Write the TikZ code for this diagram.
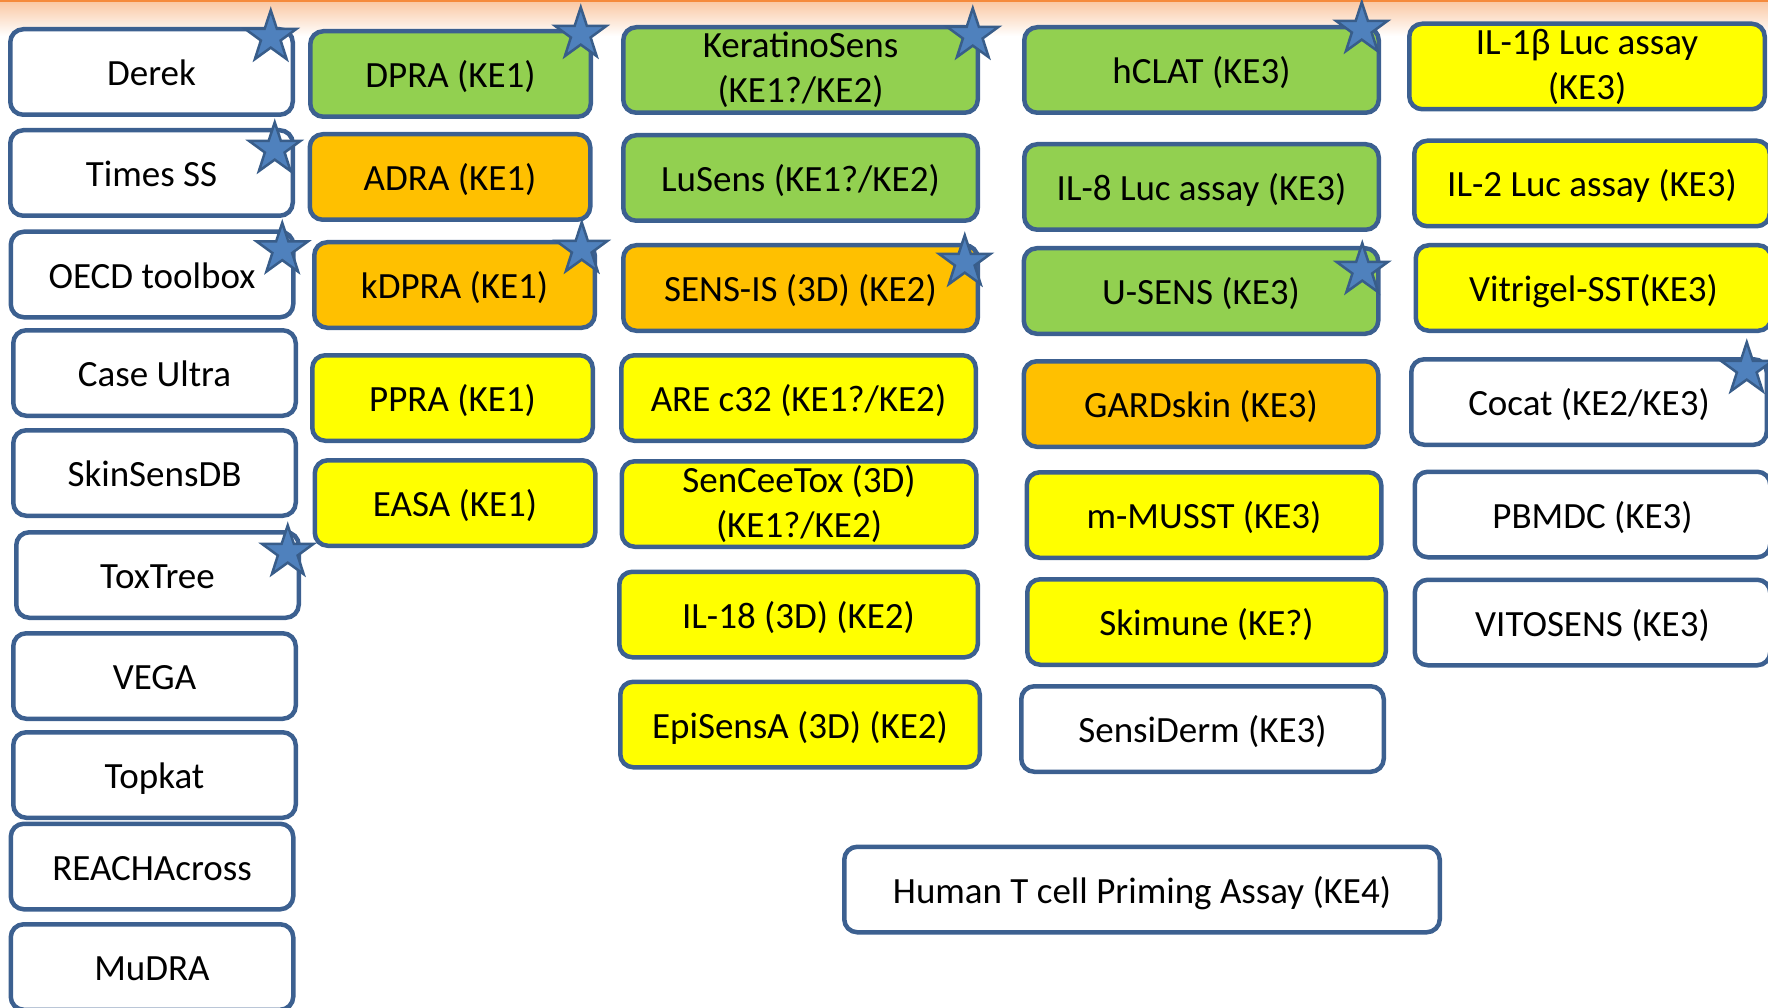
\documentclass[tikz,border=0pt]{standalone}
\usepackage{fontspec}
\setmainfont{Carlito}
\usetikzlibrary{positioning,shapes.geometric}
\definecolor{keborder}{HTML}{3C6090}
\definecolor{kegreen}{HTML}{92D050}
\definecolor{keorange}{HTML}{FFC000}
\definecolor{keyellow}{HTML}{FFFF00}
\definecolor{kestar}{HTML}{4F81BD}
\definecolor{kestaredge}{HTML}{385D8A}
\definecolor{kebar}{HTML}{F58A3C}
\tikzset{
  kebox/.style={draw=keborder,line width=4.5pt,rounded corners=13pt,fill=white,
    inner sep=0pt,outer sep=0pt,minimum height=85.5pt,align=center,text=black,
    font=\fontsize{37}{45}\selectfont},
  onel/.style={kebox,text height=33pt,text depth=6pt},
  silico/.style={onel,minimum width=282.5pt},   % in silico tools
  peptide/.style={onel,minimum width=280.5pt},  % KE1 assays
  kerat/.style={onel,minimum width=354.5pt},    % KE2 assays
  dendr/.style={onel,minimum width=354.5pt},    % KE3 assays
  lymph/.style={onel,minimum width=355.5pt},
  green/.style={fill=kegreen},
  amber/.style={fill=keorange},
  lemon/.style={fill=keyellow},
  kestarm/.style={star,star points=5,star point ratio=2.6,draw=kestaredge,
    fill=kestar,line width=2.5pt,minimum size=54pt,inner sep=0pt,outer sep=0pt},
}

\begin{document}
\begin{tikzpicture}[x=1pt,y=-1pt]
  \useasboundingbox (0,0) rectangle (1768,1008);
  \clip (0,0) rectangle (1768,1008);
  % top band
  \fill[kebar] (0,0) rectangle (1768,3);
  \shade[top color=kebar!45,bottom color=white] (0,3) rectangle (1768,36);
  % column 1: in silico
  \node[silico] (derek) at (151.5,72) {Derek};
  \node[silico] (timesss) at (151.5,173) {Times SS};
  \node[silico] (oecd) at (152,274.5) {OECD toolbox};
  \node[silico] (caseultra) at (154.5,373) {Case Ultra};
  \node[silico] (skinsensdb) at (154.5,473) {SkinSensDB};
  \node[silico] (toxtree) at (157.5,575) {ToxTree};
  \node[silico] (vega) at (154.5,676) {VEGA};
  \node[silico] (topkat) at (154.5,775) {Topkat};
  \node[silico] (reachacross) at (152,866.5) {REACHAcross};
  \node[silico] (mudra) at (152,967) {MuDRA};
  % column 2: KE1
  \node[peptide,green] (dpra) at (450.5,74) {DPRA (KE1)};
  \node[peptide,amber] (adra) at (450,177) {ADRA (KE1)};
  \node[peptide,amber] (kdpra) at (454.5,285) {kDPRA (KE1)};
  \node[peptide,lemon] (ppra) at (452.5,398) {PPRA (KE1)};
  \node[peptide,lemon] (easa) at (455,503) {EASA (KE1)};
  % column 3: KE2
  \node[kebox,green,minimum width=354.5pt] (keratinosens) at (800.5,70) {KeratinoSens\\(KE1?/KE2)};
  \node[kerat,green] (lusens) at (800.5,178) {LuSens (KE1?/KE2)};
  \node[kerat,amber] (sensis) at (800.5,288) {SENS-IS (3D) (KE2)};
  \node[kerat,lemon] (arec32) at (798.5,398) {ARE c32 (KE1?/KE2)};
  \node[kebox,lemon,minimum width=354.5pt] (senceetox) at (799,504) {SenCeeTox (3D)\\(KE1?/KE2)};
  \node[kerat,lemon,minimum width=358.5pt] (il18) at (798.5,614.5) {IL-18 (3D) (KE2)};
  \node[kerat,lemon,minimum width=359.5pt] (episensa) at (800,724.5) {EpiSensA (3D) (KE2)};
  % column 4: KE3
  \node[dendr,green] (hclat) at (1201.5,70) {hCLAT (KE3)};
  \node[dendr,green] (il8) at (1201.5,187) {IL-8 Luc assay (KE3)};
  \node[dendr,green] (usens) at (1201,291) {U-SENS (KE3)};
  \node[dendr,amber] (gardskin) at (1201,404) {GARDskin (KE3)};
  \node[dendr,lemon] (mmusst) at (1204,515) {m-MUSST (KE3)};
  \node[dendr,lemon,minimum width=358.5pt] (skimune) at (1206.5,622) {Skimune (KE?)};
  \node[dendr,minimum width=362.5pt] (sensiderm) at (1202.5,729) {SensiDerm (KE3)};
  % column 5
  \node[kebox,lemon,minimum width=355.5pt] (il1b) at (1587,66.5) {IL-1β Luc assay\\(KE3)};
  \node[lymph,lemon] (il2) at (1592,183.5) {IL-2 Luc assay (KE3)};
  \node[lymph,lemon] (vitrigel) at (1593.5,288) {Vitrigel-SST(KE3)};
  \node[lymph] (cocat) at (1589,402) {Cocat (KE2/KE3)};
  \node[lymph] (pbmdc) at (1592.5,514.5) {PBMDC (KE3)};
  \node[lymph] (vitosens) at (1592.5,622.5) {VITOSENS (KE3)};
  % KE4
  \node[onel,minimum width=595.5pt] (tcell) at (1142,889.5) {Human T cell Priming Assay (KE4)};
  % stars
  \node[kestarm] (st1) at ([xshift=-22pt,yshift=-8pt]derek.north east) {};
  \node[kestarm] (st2) at ([xshift=-18pt,yshift=-19pt]timesss.north east) {};
  \node[kestarm] (st3) at ([xshift=-11pt,yshift=-18pt]oecd.north east) {};
  \node[kestarm] (st4) at ([xshift=-11pt,yshift=-20pt]toxtree.north east) {};
  \node[kestarm] (st5) at ([xshift=-10pt,yshift=-3pt]dpra.north east) {};
  \node[kestarm] (st6) at ([xshift=-13pt,yshift=-7pt]kdpra.north east) {};
  \node[kestarm] (st7) at ([xshift=-5pt,yshift=-8pt]keratinosens.north east) {};
  \node[kestarm] (st8) at ([xshift=-13pt,yshift=-17pt]sensis.north east) {};
  \node[kestarm] (st9) at ([xshift=-17pt,yshift=-2pt]hclat.north east) {};
  \node[kestarm] (st10) at ([xshift=-16pt,yshift=-22pt]usens.north east) {};
  \node[kestarm] (st11) at ([xshift=-20pt,yshift=-10pt]cocat.north east) {};
\end{tikzpicture}
\end{document}
